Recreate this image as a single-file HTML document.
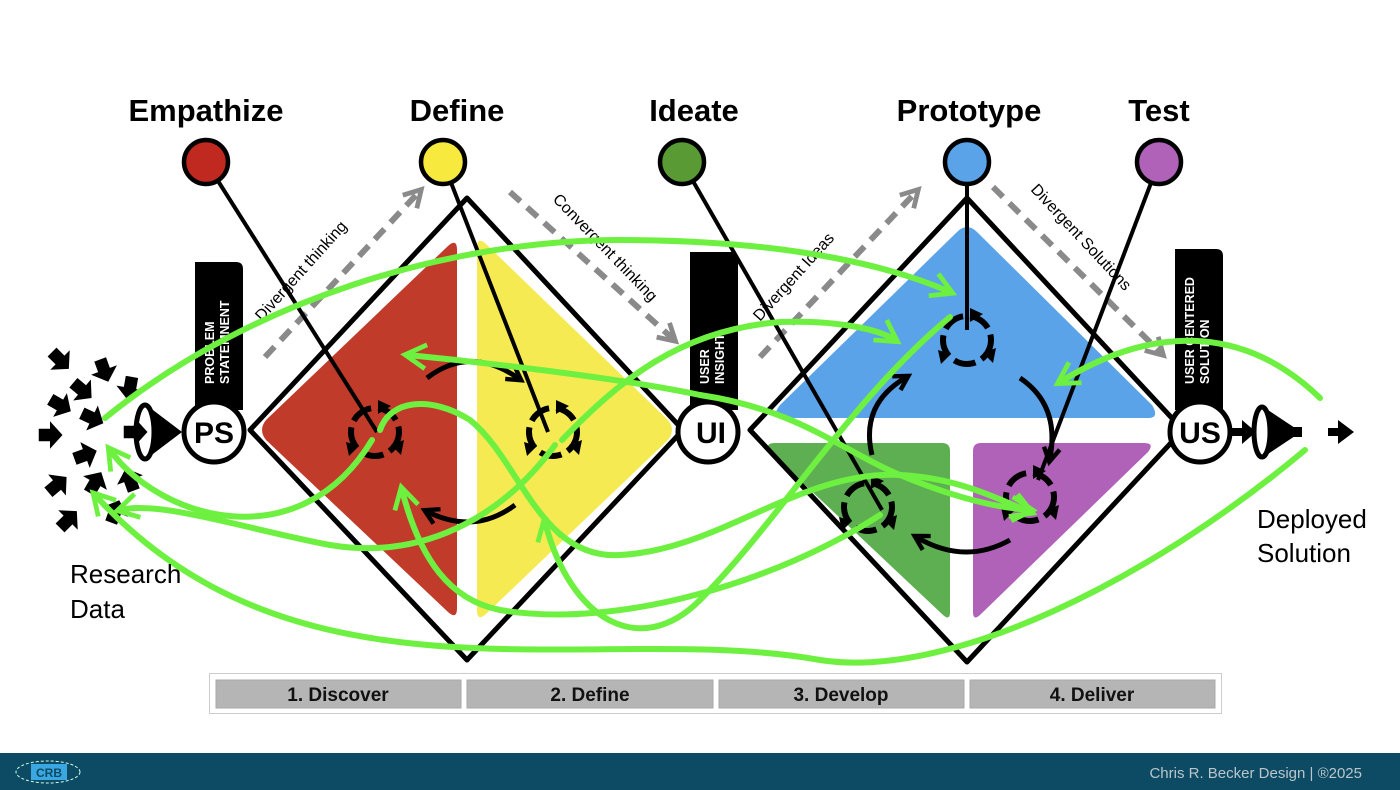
<!DOCTYPE html>
<html><head><meta charset="utf-8"><style>
html,body{margin:0;padding:0;background:#fff;}
body{width:1400px;height:790px;overflow:hidden;position:relative;font-family:"Liberation Sans",sans-serif;}
</style></head><body>
<svg width="1400" height="790" viewBox="0 0 1400 790" xmlns="http://www.w3.org/2000/svg" style="position:absolute;left:0;top:0">
<defs>
<marker id="ga" viewBox="0 0 10 10" refX="7" refY="5" markerWidth="5" markerHeight="5" orient="auto"><path d="M1,1 L8,5 L1,9" fill="none" stroke="#6ef040" stroke-width="1.6"/></marker>
<marker id="ka" viewBox="0 0 10 10" refX="6" refY="5" markerWidth="4" markerHeight="4" orient="auto"><path d="M1,1 L8,5 L1,9" fill="none" stroke="#000" stroke-width="2.2"/></marker>
<marker id="da" viewBox="0 0 10 10" refX="6" refY="5" markerWidth="4" markerHeight="4" orient="auto"><path d="M1,1 L8,5 L1,9" fill="none" stroke="#8a8a8a" stroke-width="2"/></marker>
<path id="arw" d="M-9,-5 L0,-5 L0,-11 L10,0 L0,11 L0,5 L-9,5 Z"/>
</defs>

<g font-weight="bold" font-size="31" fill="#000" text-anchor="middle">
<text x="206" y="121">Empathize</text>
<text x="457" y="121">Define</text>
<text x="694" y="121">Ideate</text>
<text x="969" y="121">Prototype</text>
<text x="1159" y="121">Test</text>
</g>

<path d="M457,250 Q457,238 448,246 L266,420 Q258,430 266,440 L448,612 Q457,620 457,608 Z" fill="#c13b2a"/>
<path d="M477,248 Q477,236 486,244 L668,420 Q676,430 668,440 L486,614 Q477,622 477,610 Z" fill="#f6ea52"/>
<path d="M957,232 Q967,222 977,232 L1152,405 Q1160,418 1148,418 L784,418 Q770,418 780,405 Z" fill="#5aa3e8"/>
<path d="M775,443 L942,443 Q950,443 950,451 L950,612 Q950,622 942,614 L770,452 Q764,443 775,443 Z" fill="#5eaf52"/>
<path d="M981,443 L1144,443 Q1155,443 1148,452 L981,614 Q973,622 973,612 L973,451 Q973,443 981,443 Z" fill="#b061b8"/>

<path d="M467,198 L683,430 L467,660 L250,430 Z" fill="none" stroke="#000" stroke-width="5" stroke-linejoin="round"/>
<path d="M967,198 L1183,430 L967,662 L750,430 Z" fill="none" stroke="#000" stroke-width="5" stroke-linejoin="round"/>

<g stroke="#8a8a8a" stroke-width="6" stroke-dasharray="14,9" fill="none" marker-end="url(#da)">
<line x1="265" y1="357" x2="418" y2="193"/>
<line x1="510" y1="192" x2="672" y2="338"/>
<line x1="760" y1="357" x2="915" y2="193"/>
<line x1="993" y1="187" x2="1160" y2="352"/>
</g>
<g font-size="16" fill="#000">
<text transform="translate(262,322) rotate(-48)">Divergent thinking</text>
<text transform="translate(552,200) rotate(46)">Convergent thinking</text>
<text transform="translate(760,322) rotate(-48)">Divergent Ideas</text>
<text transform="translate(1030,190) rotate(47)">Divergent Solutions</text>
</g>

<g fill="#000">
<path d="M195,262 L236,262 Q243,262 243,269 L243,410 L195,410 Z"/>
<path d="M690,252 L731,252 Q738,252 738,259 L738,410 L690,410 Z"/>
<path d="M1175,249 L1216,249 Q1223,249 1223,256 L1223,410 L1175,410 Z"/>
</g>
<g fill="#fff" font-weight="bold" font-size="12.5">
<text transform="translate(214,384) rotate(-90)">PROBLEM</text>
<text transform="translate(229,384) rotate(-90)">STATEMNENT</text>
<text transform="translate(709,384) rotate(-90)">USER</text>
<text transform="translate(724,384) rotate(-90)">INSIGHT</text>
<text transform="translate(1194,384) rotate(-90)">USER CENTERED</text>
<text transform="translate(1209,384) rotate(-90)">SOLUTION</text>
</g>

<g stroke="#000" stroke-width="4" fill="none">
<line x1="206" y1="162" x2="377" y2="432"/>
<line x1="443" y1="162" x2="548" y2="432"/>
<line x1="682" y1="162" x2="882" y2="510"/>
<line x1="967" y1="162" x2="967" y2="330"/>
<line x1="1159" y1="162" x2="1038" y2="480"/>
</g>
<g stroke="#000" stroke-width="4.5">
<circle cx="206" cy="162" r="22" fill="#c0291f"/>
<circle cx="443" cy="162" r="22" fill="#f7e93e"/>
<circle cx="682" cy="162" r="22" fill="#5a9a35"/>
<circle cx="967" cy="162" r="22" fill="#5aa3e8"/>
<circle cx="1159" cy="162" r="22" fill="#b061b8"/>
</g>

<g stroke="#000" stroke-width="5" fill="#fff">
<circle cx="214" cy="432" r="30"/>
<circle cx="708" cy="432" r="30"/>
<circle cx="1200" cy="432" r="30"/>
</g>
<g font-weight="bold" font-size="30" text-anchor="middle" fill="#000">
<text x="214" y="443">PS</text>
<text x="711" y="443">UI</text>
<text x="1200" y="443">US</text>
</g>

<!-- funnels -->
<g fill="#000">
<path d="M145,404 L182,432 L145,460 Z"/>
<ellipse cx="145" cy="432" rx="9" ry="27" fill="#fff" stroke="#000" stroke-width="5"/>
<path d="M1262,406 L1295,428 L1295,436 L1262,458 Z"/>
<ellipse cx="1262" cy="432" rx="8" ry="25" fill="#fff" stroke="#000" stroke-width="5"/>
<rect x="1290" y="427" width="12" height="10"/>
<rect x="1230" y="428" width="14" height="8"/>
<path d="M1242,420 L1256,432 L1242,444 Z"/>
<rect x="1328" y="428" width="12" height="8"/>
<path d="M1338,420 L1354,432 L1338,444 Z"/>
</g>

<g fill="#000">
<use href="#arw" transform="translate(60,360) rotate(45) scale(1.25)"/>
<use href="#arw" transform="translate(104,370) rotate(70) scale(1.25)"/>
<use href="#arw" transform="translate(130,388) rotate(100) scale(1.25)"/>
<use href="#arw" transform="translate(82,390) rotate(40) scale(1.25)"/>
<use href="#arw" transform="translate(60,405) rotate(30) scale(1.25)"/>
<use href="#arw" transform="translate(92,418) rotate(25) scale(1.25)"/>
<use href="#arw" transform="translate(50,435) rotate(0) scale(1.25)"/>
<use href="#arw" transform="translate(135,432) rotate(0) scale(1.25)"/>
<use href="#arw" transform="translate(85,455) rotate(-20) scale(1.25)"/>
<use href="#arw" transform="translate(57,485) rotate(-40) scale(1.25)"/>
<use href="#arw" transform="translate(95,483) rotate(-60) scale(1.25)"/>
<use href="#arw" transform="translate(130,480) rotate(-110) scale(1.25)"/>
<use href="#arw" transform="translate(68,520) rotate(-45) scale(1.25)"/>
<use href="#arw" transform="translate(115,512) rotate(-70) scale(1.25)"/>
</g>

<!-- loop icons -->
<g fill="none" stroke="#000" stroke-width="6" stroke-dasharray="22,7">
<circle cx="375" cy="432" r="24"/>
<circle cx="553" cy="432" r="24"/>
<circle cx="967" cy="340" r="24"/>
<circle cx="868" cy="507" r="24"/>
<circle cx="1030" cy="497" r="24"/>
</g>
<g fill="#000">
<path d="M378,400 l13,6 l-13,8 z M404,440 l-3,15 l-10,-10 z M346,442 l13,4 l-10,10 z"/>
<path d="M556,400 l13,6 l-13,8 z M582,440 l-3,15 l-10,-10 z M524,442 l13,4 l-10,10 z"/>
<path d="M970,308 l13,6 l-13,8 z M996,348 l-3,15 l-10,-10 z M938,350 l13,4 l-10,10 z"/>
<path d="M871,475 l13,6 l-13,8 z M897,515 l-3,15 l-10,-10 z M839,517 l13,4 l-10,10 z"/>
<path d="M1033,465 l13,6 l-13,8 z M1059,505 l-3,15 l-10,-10 z M1001,507 l13,4 l-10,10 z"/>
</g>

<g fill="none" stroke="#000" stroke-width="5" marker-end="url(#ka)">
<path d="M427,378 Q470,345 518,378"/>
<path d="M515,505 Q475,535 428,512"/>
<path d="M872,455 Q860,405 905,378"/>
<path d="M1020,378 Q1060,405 1050,458"/>
<path d="M1010,540 Q965,565 918,538"/>
</g>

<!-- green curves -->
<g fill="none" stroke="#6ef040" stroke-width="6" stroke-linecap="round" marker-end="url(#ga)">
<path d="M105,418 C250,300 450,240 620,240 C800,240 900,270 950,292"/>
<path d="M562,440 C620,380 680,330 780,322 C840,320 880,330 895,340"/>
<path d="M700,395 C620,378 480,362 408,355"/>
<path d="M700,395 C800,410 840,450 900,475 C960,500 1000,508 1030,510"/>
<path d="M372,440 C300,560 160,520 110,450"/>
<path d="M555,445 C500,520 420,560 330,545 C250,530 160,500 120,510"/>
<path d="M880,515 C780,580 620,630 500,610 C450,600 420,560 402,490"/>
<path d="M1320,398 C1250,330 1160,320 1060,382"/>
<path d="M1305,450 C1150,580 950,680 820,660 C600,620 300,720 95,495"/>
<path d="M950,317 C850,400 780,520 700,600 C640,660 570,620 545,522"/>
<path d="M380,430 C390,400 430,395 470,420 C520,460 540,560 620,555 C720,550 800,470 900,475 C960,478 1000,500 1030,512"/>
</g>

<g font-size="26" fill="#000">
<text x="70" y="583">Research</text>
<text x="70" y="618">Data</text>
<text x="1257" y="528">Deployed</text>
<text x="1257" y="562">Solution</text>
</g>

<rect x="209.5" y="673.5" width="1012" height="40" fill="#fff" stroke="#ccc"/>
<g fill="#b5b5b5" stroke="#a9a9a9">
<rect x="216" y="680" width="245" height="28"/>
<rect x="467" y="680" width="246" height="28"/>
<rect x="719" y="680" width="245" height="28"/>
<rect x="970" y="680" width="245" height="28"/>
</g>
<g font-weight="bold" font-size="19" text-anchor="middle" fill="#111">
<text x="338" y="701">1. Discover</text>
<text x="590" y="701">2. Define</text>
<text x="841" y="701">3. Develop</text>
<text x="1092" y="701">4. Deliver</text>
</g>

<rect x="0" y="753" width="1400" height="37" fill="#0d4a63"/>
<ellipse cx="48" cy="772" rx="32" ry="11" fill="none" stroke="#cfe" stroke-width="1" stroke-dasharray="3,2"/>
<rect x="31" y="764" width="36" height="16" fill="#3aa7e0"/>
<text x="49" y="777" font-size="12" font-weight="bold" text-anchor="middle" fill="#0d4a63">CRB</text>
<text x="1362" y="778" font-size="15" text-anchor="end" fill="#b9c6cc">Chris R. Becker Design  |   ®2025</text>
</svg>
</body></html>
